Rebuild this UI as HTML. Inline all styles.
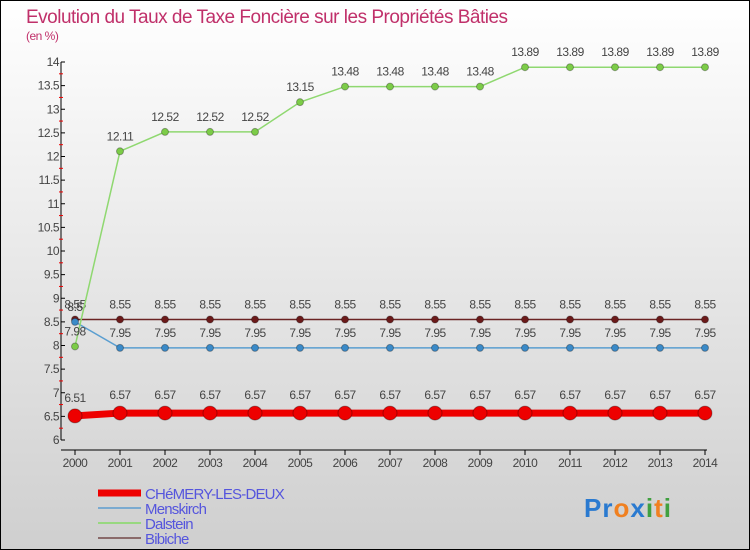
<!DOCTYPE html>
<html><head><meta charset="utf-8"><style>
body{margin:0}
#c{width:748px;height:548px;border:1px solid #000;background:linear-gradient(#fff,#cfcfcf);position:relative;overflow:hidden;font-family:"Liberation Sans",sans-serif}
</style></head><body>
<div id="c">
<svg id="s" width="748" height="548"></svg>
</div>
<script>
const years=[2000,2001,2002,2003,2004,2005,2006,2007,2008,2009,2010,2011,2012,2013,2014];
const chemery=[6.51,6.57,6.57,6.57,6.57,6.57,6.57,6.57,6.57,6.57,6.57,6.57,6.57,6.57,6.57];
const menskirch=[8.5,7.95,7.95,7.95,7.95,7.95,7.95,7.95,7.95,7.95,7.95,7.95,7.95,7.95,7.95];
const dalstein=[7.98,12.11,12.52,12.52,12.52,13.15,13.48,13.48,13.48,13.48,13.89,13.89,13.89,13.89,13.89];
const bibiche=[8.55,8.55,8.55,8.55,8.55,8.55,8.55,8.55,8.55,8.55,8.55,8.55,8.55,8.55,8.55];
const yTicks=[6,6.5,7,7.5,8,8.5,9,9.5,10,10.5,11,11.5,12,12.5,13,13.5,14];
const NS='http://www.w3.org/2000/svg',s=document.getElementById('s');
const X=i=>74+i*45, Y=v=>439-(v-6)*47.25;
function el(t,a,p){const e=document.createElementNS(NS,t);for(const k in a)e.setAttribute(k,a[k]);(p||s).appendChild(e);return e;}
function tx(x,y,str,a){const e=el('text',Object.assign({x:x,y:y,'font-size':12,fill:'#444','letter-spacing':'-0.5'},a||{}));e.textContent=str;return e;}
const t1=tx(25,22,'Evolution du Taux de Taxe Foncière sur les Propriétés Bâties',{'font-size':19,fill:'#c0306a'});

const t2=tx(25,39,'(en %)',{'font-size':12,fill:'#c0306a'});

const ax=el('g',{});
el('line',{x1:60,y1:Y(14),x2:60,y2:Y(6),stroke:'#000'},ax);
el('line',{x1:60,y1:449,x2:706,y2:449,stroke:'#000'},ax);
for(let v=6;v<14;v+=0.25){if(v%0.5)el('line',{x1:58,y1:Y(v),x2:62,y2:Y(v),stroke:'#e00'},ax);}
yTicks.forEach(v=>{el('line',{x1:60,y1:Y(v),x2:64,y2:Y(v),stroke:'#000'},ax);
 const t=tx(58,Y(v)+4,String(v),{'text-anchor':'end'});});
years.forEach((y,i)=>{el('line',{x1:X(i),y1:449,x2:X(i),y2:454,stroke:'#000'},ax);
 const t=tx(X(i),466,String(y),{'text-anchor':'middle'});});
function series(name,data,color,w,r,dot,ly){
 const g=el('g',{});
 el('polyline',{points:data.map((v,i)=>X(i)+','+Y(v)).join(' '),fill:'none',stroke:color,'stroke-width':w},g);
 data.forEach((v,i)=>{const c=el('circle',{cx:X(i),cy:Y(v),r:r,fill:dot,stroke:'rgba(0,0,0,0.3)'},g);
  
  const t=tx(X(i),Y(v)+ly,String(v),{'text-anchor':'middle'});});
}
series('bibiche',bibiche,'#6b2424',1.5,3.5,'#6b1a1a',-11);
series('menskirch',menskirch,'#5a9ed0',1.5,3.5,'#3a8ac8',-11);
series('dalstein',dalstein,'#8fd870',1.5,3.5,'#7ccc48',-11);
series('chemery',chemery,'#ee0000',7,7,'#ee0000',-14);
const lg=[['CHéMERY-LES-DEUX','#ee0000',7],['Menskirch','#7aaad0',2],['Dalstein','#98d880',2],['Bibiche','#8a6a6a',2]];
lg.forEach((l,i)=>{const g=el('g',{});
 const y=492+i*15;el('line',{x1:97,y1:y,x2:140,y2:y,stroke:l[1],'stroke-width':l[2]},g);
 tx(144,y+6,l[0],{'font-size':15,fill:'#5555dd','letter-spacing':'-0.8'},g);});
const lo=el('text',{x:583,y:516,'font-size':26,'font-weight':'bold','letter-spacing':'1'});

[['Pr','#2a7ad0'],['o','#f08020'],['x','#2a7ad0'],['i','#40a040'],['t','#f08020'],['i','#40a040']].forEach(p=>{const ts=el('tspan',{fill:p[1]},lo);ts.textContent=p[0];});
</script>
</body></html>
